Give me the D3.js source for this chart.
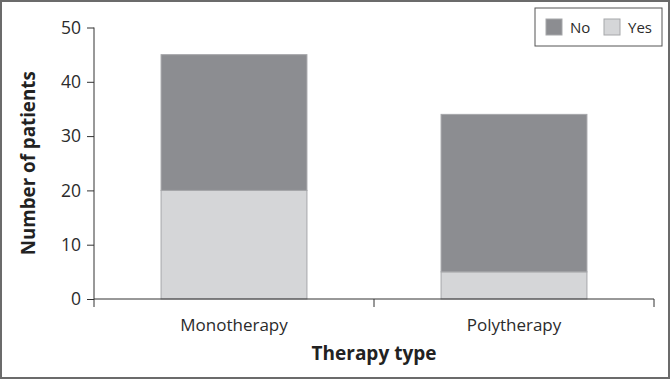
<!DOCTYPE html>
<html>
<head>
<meta charset="utf-8">
<script src="https://cdn.jsdelivr.net/npm/d3@7"></script>
<style>
  body { margin: 0; background: #fff; }
  svg { display: block; font-family: "Open Sans", sans-serif; }
</style>
</head>
<body>
<svg id="chart" width="670" height="379"></svg>
<script>
var categories = ["Monotherapy", "Polytherapy"];
var yesValues = [20, 5];
var noValues = [25, 29];
var seriesKeys = ["Yes", "No"];
var yTicks = [0, 10, 20, 30, 40, 50];

(function() {

var colors = {Yes: "#d5d6d8", No: "#8c8d91"};

var svg = d3.select("#chart");
var W = 670, H = 379;

// frame
svg.append("rect")
    .attr("x", 1).attr("y", 1)
    .attr("width", W - 2).attr("height", H - 2)
    .attr("fill", "#fff")
    .attr("stroke", "#6b6b6b")
    .attr("stroke-width", 2);

var pLeft = 94, pRight = 654, pTop = 27.5, pBottom = 299;

var x = d3.scaleBand().domain(categories).range([pLeft, pRight]).paddingInner(0.479).paddingOuter(0.2395);
var y = d3.scaleLinear().domain([0, 50]).range([pBottom, pTop]);

var rows = categories.map(function (c, i) {
    return {cat: c, Yes: yesValues[i], No: noValues[i]};
});
var stacked = d3.stack().keys(seriesKeys)(rows);

svg.append("g")
    .selectAll("g")
    .data(stacked)
    .join("g")
    .attr("fill", d => colors[d.key])
    .selectAll("rect")
    .data(d => d)
    .join("rect")
    .attr("x", d => x(d.data.cat))
    .attr("width", x.bandwidth())
    .attr("y", d => y(d[1]))
    .attr("height", d => y(d[0]) - y(d[1]))
    .attr("stroke", "#a6a7aa")
    .attr("stroke-width", 1);

// y axis
var yAxis = svg.append("g")
    .attr("transform", "translate(" + pLeft + ",0)")
    .call(d3.axisLeft(y).tickValues(yTicks).tickSize(7).tickPadding(6));
yAxis.selectAll("text").attr("font-size", "17.5px").attr("fill", "#2b2b2b").attr("font-family", "Open Sans");
yAxis.selectAll("line, path").attr("stroke", "#333");
yAxis.select(".domain").attr("d", "M0," + pTop + "V" + pBottom);

// x axis: ticks at band boundaries, pointing down
var xg = svg.append("g").attr("transform", "translate(0," + pBottom + ")");
xg.append("line").attr("x1", pLeft).attr("x2", pRight).attr("stroke", "#333");
var bounds = [pLeft, (pLeft + pRight) / 2, pRight];
xg.selectAll("line.tk").data(bounds).join("line")
    .attr("class", "tk")
    .attr("x1", d => d).attr("x2", d => d)
    .attr("y1", 0).attr("y2", 8)
    .attr("stroke", "#333");
xg.selectAll("text").data(categories).join("text")
    .attr("x", d => x(d) + x.bandwidth() / 2)
    .attr("y", 32)
    .attr("text-anchor", "middle")
    .attr("font-size", "17px")
    .attr("fill", "#2b2b2b")
    .text(d => d);

// axis titles
svg.append("text")
    .attr("x", (pLeft + pRight) / 2).attr("y", 360)
    .attr("text-anchor", "middle")
    .attr("font-weight", "bold")
    .attr("font-size", "19px")
    .attr("fill", "#222")
    .text("Therapy type");

svg.append("text")
    .attr("transform", "translate(35," + ((pTop + pBottom) / 2) + ") rotate(-90)")
    .attr("text-anchor", "middle")
    .attr("font-weight", "bold")
    .attr("font-size", "18.75px")
    .attr("fill", "#222")
    .text("Number of patients");

// legend
var legend = svg.append("g").attr("transform", "translate(535,8)");
legend.append("rect")
    .attr("width", 127).attr("height", 38)
    .attr("fill", "#fff").attr("stroke", "#555").attr("stroke-width", 1);
var legendKeys = ["No", "Yes"];
var lx = [11, 69];
var items = legend.selectAll("g.item").data(legendKeys).join("g")
    .attr("class", "item")
    .attr("transform", (d, i) => "translate(" + lx[i] + ",11)");
items.append("rect")
    .attr("width", 16).attr("height", 16)
    .attr("fill", d => colors[d])
    .attr("stroke", "#a6a7aa");
items.append("text")
    .attr("x", 24).attr("y", 13.5)
    .attr("font-size", "15px")
    .attr("fill", "#2b2b2b")
    .text(d => d);

})()
</script>
</body>
</html>
